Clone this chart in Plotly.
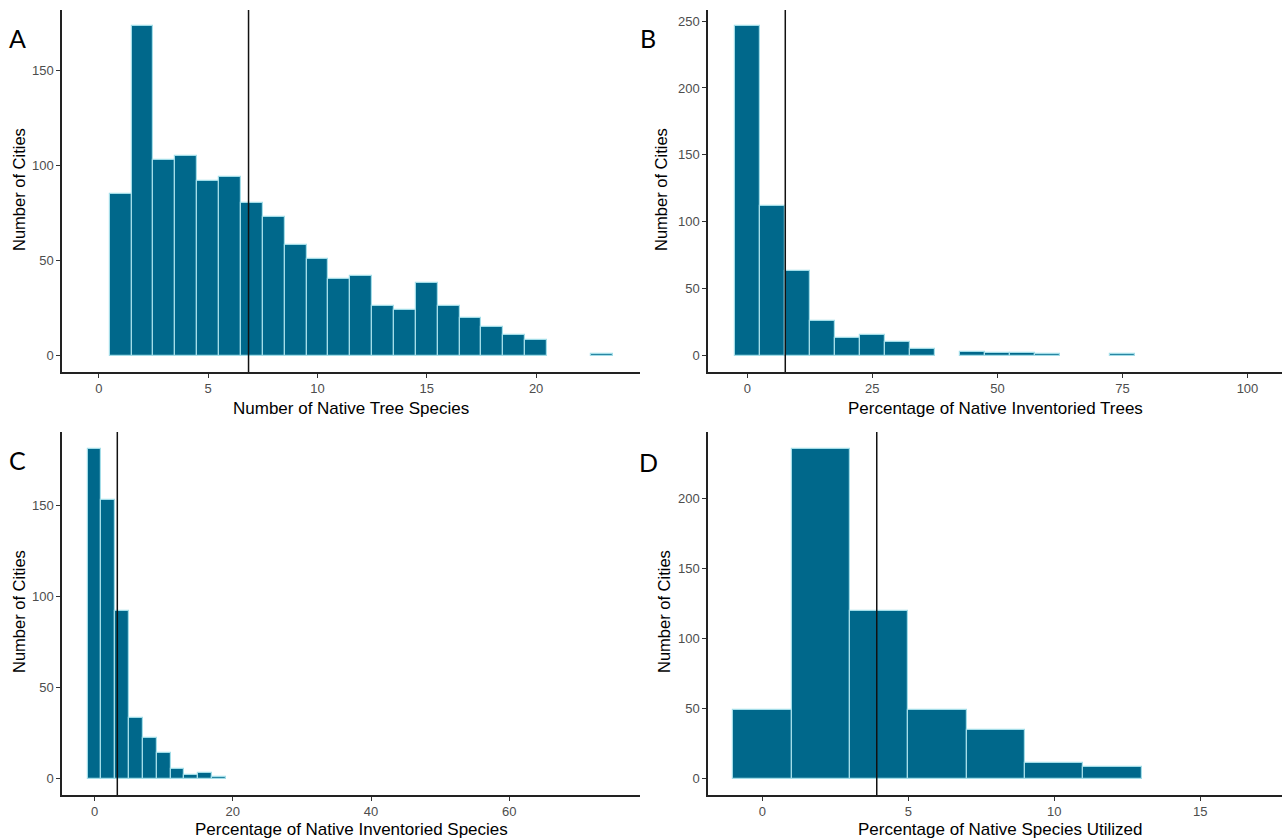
import plotly.graph_objects as go

# ---- data ----
a_bins = list(range(1, 24))
a_counts = [85, 173, 103, 105, 92, 94, 80, 73, 58, 51, 40, 42, 26, 24, 38, 26, 20, 15, 11, 8, 0, 0, 1]
a_mean = 6.85

b_bins = [0, 5, 10, 15, 20, 25, 30, 35, 40, 45, 50, 55, 60, 65, 70, 75]
b_counts = [246, 112, 63, 26, 13, 15, 10, 5, 0, 3, 2, 2, 1, 0, 0, 1]
b_mean = 7.6

c_bins = [0, 2, 4, 6, 8, 10, 12, 14, 16, 18]
c_counts = [181, 153, 92, 33, 22, 14, 5, 2, 3, 1]
c_mean = 3.3

d_bins = [0, 2, 4, 6, 8, 10, 12]
d_counts = [49, 236, 120, 49, 35, 11, 8]
d_mean = 3.92

panel_letters = ["A", "B", "C", "D"]
x_titles = ["Number of Native Tree Species", "Percentage of Native Inventoried Trees",
            "Percentage of Native Inventoried Species", "Percentage of Native Species Utilized"]
y_title = "Number of Cities"

W, H = 1282, 840
def px(x): return x / W
def py(y): return 1 - y / H

FILL = "#00688B"
EDGE = "#a3dde8"
FONT = "Liberation Sans, Arial, sans-serif"

panels = [
    dict(bins=a_bins, counts=a_counts, width=1, mean=a_mean,
         xdom=[px(62), px(640)], ydom=[py(372), py(10)],
         xr=[-1.68, 24.75], yr=[-8.65, 181.65], xt=[0, 5, 10, 15, 20], yt=[0, 50, 100, 150]),
    dict(bins=b_bins, counts=b_counts, width=5, mean=b_mean,
         xdom=[px(708), 1.0], ydom=[py(372), py(10)],
         xr=[-7.85, 106.9], yr=[-12.3, 258.3], xt=[0, 25, 50, 75, 100], yt=[0, 50, 100, 150, 200, 250]),
    dict(bins=c_bins, counts=c_counts, width=2, mean=c_mean,
         xdom=[px(62), px(640)], ydom=[py(795), py(432)],
         xr=[-4.7, 78.9], yr=[-9.05, 190.05], xt=[0, 20, 40, 60], yt=[0, 50, 100, 150]),
    dict(bins=d_bins, counts=d_counts, width=2, mean=d_mean,
         xdom=[px(708), 1.0], ydom=[py(795), py(432)],
         xr=[-1.86, 17.8], yr=[-11.8, 247.8], xt=[0, 5, 10, 15], yt=[0, 50, 100, 150, 200]),
]

fig = go.Figure()
layout = {}
shapes = []
for i, p in enumerate(panels):
    n = "" if i == 0 else str(i + 1)
    xs = [b for b, c in zip(p["bins"], p["counts"]) if c > 0]
    ys = [c for c in p["counts"] if c > 0]
    fig.add_trace(go.Bar(x=xs, y=ys, width=p["width"], xaxis="x" + n, yaxis="y" + n,
                         marker=dict(color=FILL, line=dict(color=EDGE, width=1.2)),
                         showlegend=False, hoverinfo="x+y"))
    common = dict(showline=True, linecolor="#222222", linewidth=1.5, ticks="outside",
                  ticklen=4, tickwidth=1, tickcolor="#333333", showgrid=False, zeroline=False,
                  tickfont=dict(family=FONT, size=13, color="#4d4d4d"))
    layout["xaxis" + n] = dict(domain=p["xdom"], anchor="y" + n, range=p["xr"],
                               tickvals=p["xt"], **common)
    layout["yaxis" + n] = dict(domain=p["ydom"], anchor="x" + n, range=p["yr"],
                               tickvals=p["yt"], **common)
    shapes.append(dict(type="line", xref="x" + n, yref="y" + n + " domain",
                       x0=p["mean"], x1=p["mean"], y0=0, y1=1,
                       line=dict(color="#111111", width=1.5)))

annotations = []
letter_pos = [(17, 38), (648, 38), (17, 460), (648, 462)]
xt_pos = [(351, 408), (995, 408), (351, 829), (1000, 829)]
yt_pos = [(19, 190), (661, 190), (19, 612), (664, 612)]
for i in range(4):
    lx, ly = letter_pos[i]
    annotations.append(dict(x=px(lx), y=py(ly), xref="paper", yref="paper", text=panel_letters[i],
                            showarrow=False, xanchor="center", yanchor="middle",
                            font=dict(family="Lato, Open Sans, sans-serif", size=25, color="black")))
    tx, ty = xt_pos[i]
    annotations.append(dict(x=px(tx), y=py(ty), xref="paper", yref="paper", text=x_titles[i],
                            showarrow=False, xanchor="center", yanchor="middle",
                            font=dict(family=FONT, size=17, color="black")))
    yx, yy = yt_pos[i]
    annotations.append(dict(x=px(yx), y=py(yy), xref="paper", yref="paper", text=y_title,
                            showarrow=False, xanchor="center", yanchor="middle", textangle=-90,
                            font=dict(family=FONT, size=16.5, color="black")))

fig.update_layout(width=W, height=H, margin=dict(l=0, r=0, t=0, b=0),
                  paper_bgcolor="white", plot_bgcolor="white", bargap=0,
                  shapes=shapes, annotations=annotations, **layout)

fig.write_html("out.html", config={"displayModeBar": False},
               post_script="document.body.style.margin='0';document.body.style.padding='0';"
                           "document.body.style.overflow='hidden';")
